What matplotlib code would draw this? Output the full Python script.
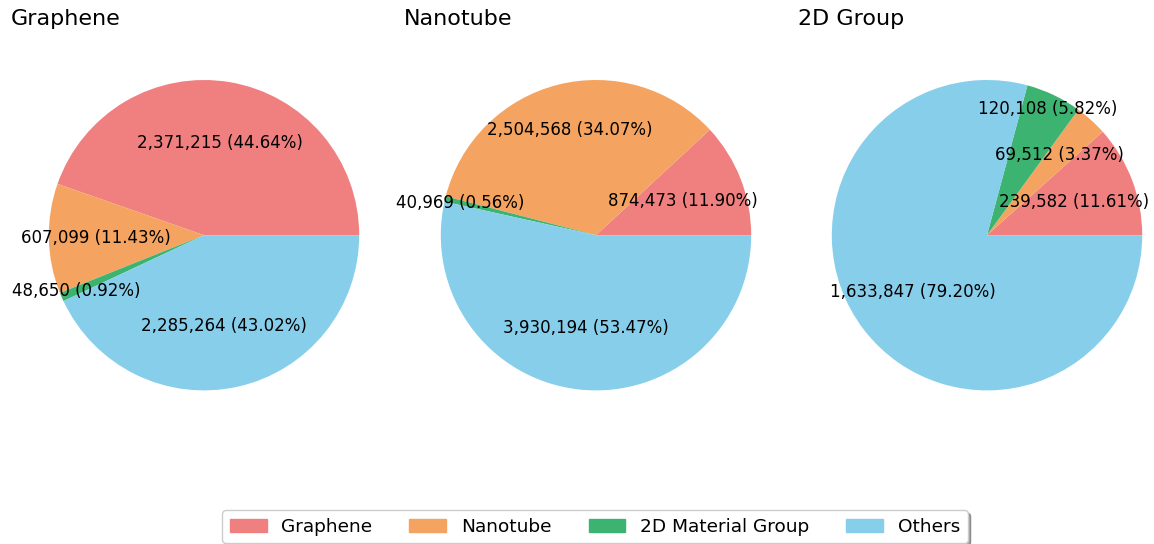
import numpy as np
import matplotlib
matplotlib.use("Agg")
import matplotlib.pyplot as plt

categories = ["Graphene", "Nanotube", "2D Material Group", "Others"]
titles = ["Graphene", "Nanotube", "2D Group"]
values_graphene = [2371215, 607099, 48650, 2285264]
values_nanotube = [874473, 2504568, 40969, 3930194]
values_2dgroup = [239582, 69512, 120108, 1633847]
series = [values_graphene, values_nanotube, values_2dgroup]

colors = ["lightcoral", "sandybrown", "mediumseagreen", "skyblue"]
# per-category distance of the value labels from the centre (fraction of radius)
label_dist = [0.6, 0.7, 0.9, 0.6]

W, H = 1154, 544
fig = plt.figure(figsize=(W / 100, H / 100), dpi=100)

centers_px = [204, 596, 987]
cy_px = 235.2
radius_px = 155.2
ax_size = 2.5 * radius_px
title_px = [12, 405, 799]


def make_fmt(vals):
    it = iter(vals)
    def fmt(pct):
        v = next(it)
        return f"{v:,} ({pct:.2f}%)"
    return fmt


for i, (vals, title) in enumerate(zip(series, titles)):
    left = centers_px[i] - ax_size / 2
    bottom = H - (cy_px + ax_size / 2)
    ax = fig.add_axes([left / W, bottom / H, ax_size / W, ax_size / H])
    wedges, texts, autotexts = ax.pie(vals, colors=colors, autopct=make_fmt(vals),
                                      pctdistance=0.6, startangle=0,
                                      textprops={"fontsize": 12})
    for w, t, d in zip(wedges, autotexts, label_dist):
        ang = np.deg2rad((w.theta1 + w.theta2) / 2)
        t.set_position((d * np.cos(ang), d * np.sin(ang)))
    ax.set_title(title, loc="left", fontsize=16, pad=12,
                 x=(title_px[i] - 1.5 - left) / ax_size)

handles = [plt.Rectangle((0, 0), 1, 1, color=c) for c in colors]
fig.legend(handles, categories, loc="lower center", ncol=4, fontsize=13.3,
           bbox_to_anchor=(595 / W, 0.0), borderaxespad=0.05, shadow=True,
           frameon=True)

fig.savefig("out.png", dpi=100)
